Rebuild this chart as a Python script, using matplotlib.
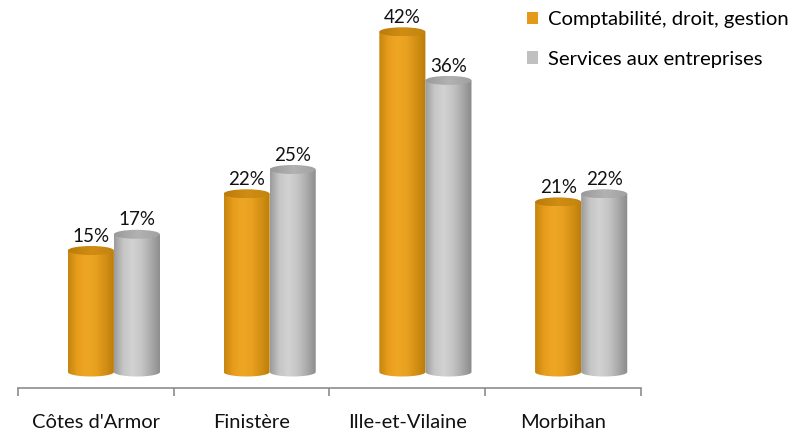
import numpy as np
import matplotlib
matplotlib.use("Agg")
import matplotlib.pyplot as plt
from matplotlib.colors import LinearSegmentedColormap
from matplotlib.path import Path
from matplotlib.patches import PathPatch, Ellipse, Patch

plt.rcParams['font.family'] = ['Lato', 'DejaVu Sans']

categories = ["Côtes d'Armor", "Finistère", "Ille-et-Vilaine", "Morbihan"]
compta = [15, 22, 42, 21]
services = [17, 25, 36, 22]
series_names = ["Comptabilité, droit, gestion", "Services aux entreprises"]

W, H = 804, 438
fig = plt.figure(figsize=(W / 100, H / 100), dpi=100)
ax = fig.add_axes([18 / W, 1 - 388 / H, (641 - 18) / W, (388 - 10) / H])

px = 8.1          # pixels per percent
base = 372        # pixel row of value 0
ax.set_xlim(-0.5, len(categories) - 0.5)
ax.set_ylim(-(388 - base) / px, (base - 10) / px)

bw = 46 / 155.5
shift = 18 / 155.5
eh = 9 / px       # ellipse height in data units

cm_orange = LinearSegmentedColormap.from_list(
    "o", ["#c4850f", "#e89e1c", "#eea624", "#e8a020", "#d28f14", "#b97c0a"])
cm_gray = LinearSegmentedColormap.from_list(
    "g", ["#9a9a9a", "#c6c6c6", "#d2d2d2", "#c4c4c4", "#a8a8a8", "#8a8a8a"])
cm_otop = LinearSegmentedColormap.from_list("ot", ["#b97b0a", "#d08d14", "#c2840e"])
cm_gtop = LinearSegmentedColormap.from_list("gt", ["#999999", "#b2b2b2", "#a0a0a0"])
grad = np.linspace(0, 1, 256).reshape(1, -1)


def cylinder(xc, v, cmap, topcmap):
    x0, x1 = xc - bw / 2, xc + bw / 2
    t = np.linspace(np.pi, 2 * np.pi, 40)
    arc = np.column_stack([xc + bw / 2 * np.cos(t), eh / 2 * np.sin(t)])
    verts = np.vstack([[x0, v], arc, [x1, v], [x0, v]])
    clip = PathPatch(Path(verts), transform=ax.transData, fc='none', ec='none')
    ax.add_patch(clip)
    im = ax.imshow(grad, cmap=cmap, extent=[x0, x1, -eh, v], aspect='auto',
                   interpolation='bicubic', zorder=2)
    im.set_clip_path(clip)
    top = Ellipse((xc, v), bw, eh, transform=ax.transData, fc='none', ec='none')
    ax.add_patch(top)
    im2 = ax.imshow(grad, cmap=topcmap, extent=[x0, x1, v - eh / 2, v + eh / 2],
                    aspect='auto', interpolation='bicubic', zorder=2)
    im2.set_clip_path(top)
    ax.annotate(f"{v}%", (xc, v + eh / 2), xytext=(0, 1), textcoords='offset points',
                ha='center', va='bottom', fontsize=13.5, color='#111111', zorder=3)


for i in range(len(categories)):
    cylinder(i + shift - bw / 2, compta[i], cm_orange, cm_otop)
    cylinder(i + shift + bw / 2, services[i], cm_gray, cm_gtop)

for s in ['top', 'left', 'right']:
    ax.spines[s].set_visible(False)
ax.spines['bottom'].set_color('#8c8c8c')
ax.spines['bottom'].set_linewidth(1.2)
ax.set_yticks([])
ax.set_xticks(np.arange(-0.5, len(categories)))
ax.set_xticklabels([])
ax.tick_params(axis='x', which='major', length=6, color='#8c8c8c', width=1.2)
ax.set_xticks(np.arange(len(categories)), minor=True)
ax.set_xticklabels(categories, minor=True, fontsize=14.5, color='#111111')
ax.tick_params(axis='x', which='minor', length=0, pad=19)

handles = [Patch(fc='#e39a1a', ec='none'), Patch(fc='#c0c0c0', ec='none')]
fig.legend(handles, series_names, loc='upper left', bbox_to_anchor=(527 / W, 1 - 11 / H),
           frameon=False, fontsize=14.6, handlelength=0.52, handleheight=0.56,
           handletextpad=0.5, labelspacing=1.12, borderaxespad=0, borderpad=0)

fig.savefig("out.png", dpi=100)
